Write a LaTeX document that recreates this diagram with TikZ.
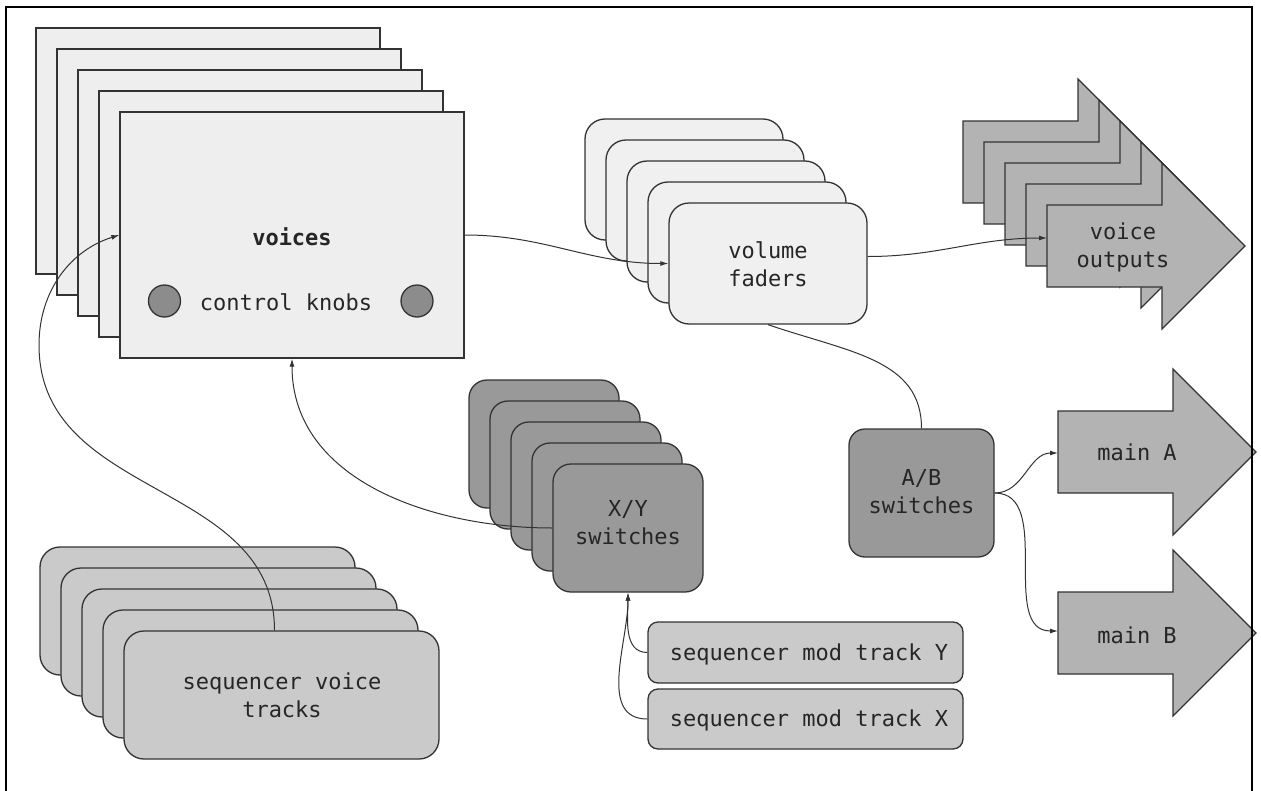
\documentclass[tikz,border=0pt]{standalone}
\usepackage{fontspec}
\setmonofont{DejaVu Sans Mono}
\usetikzlibrary{arrows.meta}
\definecolor{lnc}{HTML}{333333}
\definecolor{vfill}{HTML}{EEEEEE}
\definecolor{ffill}{HTML}{F0F0F0}
\definecolor{sfill}{HTML}{CACACA}
\definecolor{dfill}{HTML}{999999}
\definecolor{afill}{HTML}{B3B3B3}
\definecolor{kfill}{HTML}{8C8C8C}
\newcommand\bigarrowshape[2]{%
  \draw[arrowsty] (#1,#2-41) -- (#1+115,#2-41) -- (#1+115,#2-83) -- (#1+198,#2)
    -- (#1+115,#2+83) -- (#1+115,#2+41) -- (#1,#2+41) -- cycle;}
\begin{document}
\begin{tikzpicture}[x=1pt,y=-1pt,
  every node/.style={font=\ttfamily\fontsize{22}{28}\selectfont, inner sep=0pt, align=center, text=black!85},
  shapeline/.style={draw=lnc, line width=1.3pt},
  voicebox/.style={shapeline, fill=vfill, minimum width=344pt, minimum height=246pt},
  faderbox/.style={shapeline, fill=ffill, rounded corners=20pt, minimum width=198pt, minimum height=121pt},
  xybox/.style={shapeline, fill=dfill, rounded corners=18pt, minimum width=150pt, minimum height=128pt},
  seqbox/.style={shapeline, fill=sfill, rounded corners=20pt, minimum width=315pt, minimum height=128pt},
  modbox/.style={shapeline, fill=sfill, rounded corners=10pt, minimum width=315pt, minimum height=61pt},
  abbox/.style={shapeline, fill=dfill, rounded corners=16pt, minimum width=145pt, minimum height=128pt},
  knob/.style={shapeline, fill=kfill, circle, minimum size=32pt},
  arrowsty/.style={shapeline, fill=afill},
  conn/.style={draw=lnc, line width=1pt},
  tip/.style={-{Latex[length=8pt,width=5pt]}}
]
\useasboundingbox (0,0) rectangle (1261,790);
\fill[white] (0,0) rectangle (1261,790);

% voices stack
\foreach \k in {4,3,2,1} \node[voicebox] (voices\k) at (292-21*\k,235-21*\k) {};
\node[voicebox] (voices) at (292,235) {};
\node[anchor=base, font=\ttfamily\bfseries\fontsize{22}{28}\selectfont] (voicesT) at (292,245) {voices};
\node[anchor=base] (knobsT) at (286,310) {control knobs};
\node[knob] (knobL) at (164.5,301) {};
\node[knob] (knobR) at (417,301) {};

% volume faders stack
\foreach \k in {4,3,2,1} \node[faderbox] (fader\k) at (768-21*\k,263.5-21*\k) {};
\node[faderbox] (fader) at (768,263.5) {};
\node (faderT) at (768,264) {volume\\faders};

% voice outputs arrows
\foreach \k in {4,3,2,1} {\bigarrowshape{1047-21*\k}{246-21*\k}}
\bigarrowshape{1047}{246}
\node (voT) at (1123,247) {voice\\outputs};
\coordinate (voin) at (1047,238);

% X/Y switches stack
\foreach \k in {4,3,2,1} \node[xybox] (xy\k) at (628-21*\k,528-21*\k) {};
\node[xybox] (xy) at (628,528) {};
\node (xyT) at (628,523) {X/Y\\switches};

% sequencer voice tracks stack
\foreach \k in {4,3,2,1} \node[seqbox] (seq\k) at (281.5-21*\k,695-21*\k) {};
\node[seqbox] (seq) at (281.5,695) {};
\node (seqT) at (282,695) {sequencer voice\\tracks};

% sequencer mod tracks
\node[modbox] (modY) at (805.5,652.5) {};
\node (modYT) at (809,654) {sequencer mod track Y};
\node[modbox, minimum height=60pt] (modX) at (805.5,719) {};
\node (modXT) at (809,720) {sequencer mod track X};

% A/B switches
\node[abbox] (ab) at (921.5,493) {};
\node (abT) at (921.5,492) {A/B\\switches};

% main A / main B
\bigarrowshape{1058}{452}
\node (mainA) at (1137,452) {main A};
\coordinate (mainAin) at (1058,453);
\bigarrowshape{1058}{633}
\node (mainB) at (1137,635) {main B};
\coordinate (mainBin) at (1058,631);

% connectors
\draw[conn,tip] (voices.east) to[out=0,in=180] (fader.west);
\draw[conn,tip] ([yshift=7pt]fader.east) to[out=0,in=180] (voin);
\draw[conn] (fader.south) .. controls +(82,28) and +(0,-69) .. (ab.north);
\draw[conn,tip] (ab.east) to[out=0,in=180] (mainAin);
\draw[conn,tip] (ab.east) to[out=0,in=180] (mainBin);
\draw[conn,tip] (xy.west) to[out=180,in=-90] (voices.south);
\draw[conn,tip] (modY.west) to[out=180,in=-90] (xy.south);
\draw[conn,tip] (modX.west) to[out=180,in=-90] (xy.south);
\coordinate (seqw) at (39,345);
\draw[conn,tip] ([xshift=-7pt]seq.north) .. controls +(0,-151) and +(0,155) .. (seqw)
   .. controls +(0,-55) and +(-48,15) .. (voices.west);

% frame
\draw[black, line width=2pt] (6,800) -- (6,7) -- (1252,7) -- (1252,800);
\end{tikzpicture}
\end{document}
